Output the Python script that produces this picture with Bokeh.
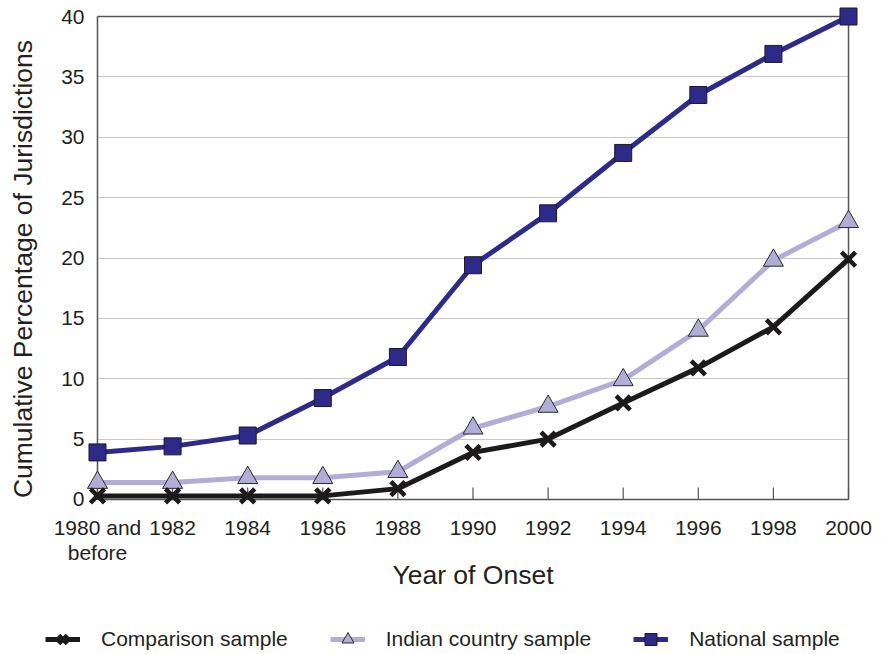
from bokeh.plotting import figure
from bokeh.models import Range1d, FixedTicker, Legend, LegendItem
from bokeh.embed import file_html
from bokeh.resources import INLINE

# ---- data ----
categories = ["1980 and\nbefore", "1982", "1984", "1986", "1988", "1990",
              "1992", "1994", "1996", "1998", "2000"]
comparison = [0.3, 0.3, 0.3, 0.3, 0.9, 3.9, 5.0, 8.0, 10.9, 14.3, 19.9]
indian = [1.4, 1.4, 1.8, 1.8, 2.3, 5.9, 7.7, 9.9, 14.0, 19.8, 23.0]
national = [3.9, 4.4, 5.3, 8.4, 11.8, 19.4, 23.7, 28.7, 33.5, 36.9, 40.0]
y_ticks = [0, 5, 10, 15, 20, 25, 30, 35, 40]
series_names = ["Comparison sample", "Indian country sample", "National sample"]
x_title = "Year of Onset"
y_title = "Cumulative Percentage of Jurisdictions"

FONT = "Liberation Sans"
TXT = "#231f20"
NAVY = "#2e2a8a"
LAV = "#b2add6"
BLACK = "#1c1a1a"
AXIS = "#555555"
GRID = "#c8c8c8"

STYLES = {
    "national": dict(line=dict(line_color=NAVY, line_width=5),
                     mark=dict(marker="square", size=17, fill_color=NAVY,
                               line_color="#1a1a2a", line_width=1)),
    "indian": dict(line=dict(line_color=LAV, line_width=5),
                   mark=dict(marker="triangle", size=20, fill_color=LAV,
                             line_color="#2a2a2a", line_width=1)),
    "comparison": dict(line=dict(line_color=BLACK, line_width=5),
                       mark=dict(marker="x", size=20, line_color=BLACK,
                                 line_width=4.5)),
}

x = list(range(len(categories)))
xmin, xmax = x[0], x[-1]
ymin, ymax = y_ticks[0], y_ticks[-1]
xpad, ypad_top, ypad_bot = 0.346, 0.994, 0.994

p = figure(width=884, height=600, output_backend="svg", toolbar_location=None,
           x_range=Range1d(xmin - xpad, xmax + xpad),
           y_range=Range1d(ymin - ypad_bot, ymax + ypad_top),
           min_border_left=71, min_border_right=10, min_border_top=4,
           min_border_bottom=89)
p.outline_line_color = None
p.background_fill_color = "white"

# grid
p.xgrid.visible = False
p.ygrid.ticker = FixedTicker(ticks=y_ticks)
p.ygrid.grid_line_color = GRID
p.ygrid.grid_line_width = 1.2
p.ygrid.cross_bounds = (xmin, xmax)

# frame border (axis lines) drawn from data extents
p.segment(x0=[xmin, xmin, xmax, xmin], y0=[ymin, ymin, ymin, ymax],
          x1=[xmax, xmin, xmax, xmax], y1=[ymin, ymax, ymax, ymax],
          line_color=AXIS, line_width=1.5)
# inward x ticks
tick_len = 1.0
p.segment(x0=x, y0=[ymin] * len(x), x1=x, y1=[ymin + tick_len] * len(x),
          line_color=AXIS, line_width=1.2)

# series
p.line(x, national, **STYLES["national"]["line"])
p.scatter(x, national, **STYLES["national"]["mark"])
p.line(x, indian, **STYLES["indian"]["line"])
p.scatter(x, indian, **STYLES["indian"]["mark"])
p.line(x, comparison, **STYLES["comparison"]["line"])
p.scatter(x, comparison, **STYLES["comparison"]["mark"])

# axes
p.xaxis.ticker = FixedTicker(ticks=x)
p.xaxis.major_label_overrides = {i: c for i, c in zip(x, categories)}
p.xaxis.axis_line_color = None
p.xaxis.major_tick_line_color = None
p.xaxis.minor_tick_line_color = None
p.xaxis.major_tick_out = 0
p.xaxis.major_tick_in = 0
p.xaxis.major_label_standoff = 4
p.xaxis.major_label_text_line_height = 1.1
p.xaxis.axis_label = x_title
p.xaxis.axis_label_standoff = -7

p.yaxis.ticker = FixedTicker(ticks=y_ticks)
p.yaxis.axis_line_color = None
p.yaxis.major_tick_line_color = None
p.yaxis.minor_tick_line_color = None
p.yaxis.major_tick_out = 0
p.yaxis.major_tick_in = 0
p.yaxis.major_label_standoff = -13
# trailing no-break spaces nudge the centred title toward the x axis
p.yaxis.axis_label = y_title + "\u00a0\u00a0\u00a0"
p.yaxis.axis_label_standoff = 20

for ax in (p.xaxis[0], p.yaxis[0]):
    ax.major_label_text_font = FONT
    ax.major_label_text_font_size = "21px"
    ax.major_label_text_color = TXT
    ax.axis_label_text_font = FONT
    ax.axis_label_text_font_size = "26.5px"
    ax.axis_label_text_font_style = "normal"
    ax.axis_label_text_color = TXT

# ---- legend strip (separate root figure below the chart) ----
lg = figure(width=884, height=54, output_backend="svg", toolbar_location=None,
            x_axis_type=None, y_axis_type=None,
            x_range=Range1d(0, 1), y_range=Range1d(0, 1),
            min_border=0, min_border_left=0, min_border_right=0,
            min_border_top=0, min_border_bottom=0)
lg.outline_line_color = None
lg.grid.visible = False

nan = float("nan")
items = []
for key, name in zip(["comparison", "indian", "national"], series_names):
    r1 = lg.line([nan], [nan], **STYLES[key]["line"])
    r2 = lg.scatter([nan], [nan], **STYLES[key]["mark"])
    items.append(LegendItem(label=name, renderers=[r1, r2]))

legend = Legend(items=items, orientation="horizontal", location=(45, 0),
                glyph_width=35, glyph_height=30, label_standoff=21, spacing=42,
                padding=0, margin=0, border_line_color=None,
                background_fill_alpha=0, label_text_font=FONT,
                label_text_font_size="21px", label_text_color=TXT)
lg.add_layout(legend)

open("out.html", "w").write(file_html([p, lg], INLINE))
